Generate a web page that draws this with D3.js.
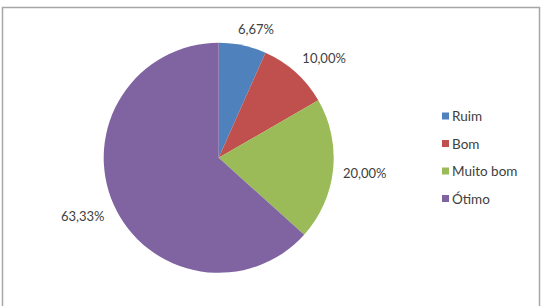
<!DOCTYPE html>
<html lang="pt">

<head>
    <meta charset="UTF-8">
    <title>Avaliação</title>
    <script src="https://d3js.org/d3.v7.min.js"></script>
    <style>
        body { margin: 0; background: #fff; }
        svg text { font-family: Lato, "Open Sans", sans-serif; fill: #404040; }
    </style>
</head>

<body>
    <svg width="546" height="306"></svg>

    <script>
        (function () {
            // data (counts of answers, shares shown as labels)
            const categories = ['Ruim', 'Bom', 'Muito bom', 'Ótimo'];
            const counts = [2, 3, 6, 19];
            const colors = ['#4F81BD', '#C0504D', '#9BBB59', '#8064A2'];

            const svg = d3.select('svg');

            // outer frame
            svg.append('rect')
                .attr('x', 2.5).attr('y', 7.5)
                .attr('width', 537).attr('height', 320)
                .attr('fill', 'none')
                .attr('stroke', '#a6a6a6')
                .attr('stroke-width', 1.5);

            const cx = 218.7, cy = 157.8, r = 115;
            const total = d3.sum(counts);
            const fmt = v => (v * 100).toFixed(2).replace('.', ',') + '%';

            const pie = d3.pie().sort(null).value(d => d)(counts);
            const arc = d3.arc().innerRadius(0).outerRadius(r);

            const g = svg.append('g').attr('transform', `translate(${cx},${cy})`);

            g.selectAll('path')
                .data(pie)
                .enter()
                .append('path')
                .attr('d', arc)
                .attr('fill', (d, i) => colors[i]);

            // labels: anchor point just off the rim, box pushed away from it
            const gap = 10;
            const clamp = v => Math.max(-1, Math.min(1, v));
            g.selectAll('text.lbl')
                .data(pie)
                .enter()
                .append('text')
                .attr('class', 'lbl')
                .attr('font-size', 13)
                .attr('text-anchor', 'middle')
                .attr('dominant-baseline', 'central')
                .text(d => fmt(d.value / total))
                .each(function (d) {
                    const a = (d.startAngle + d.endAngle) / 2;
                    const ux = Math.sin(a), uy = -Math.cos(a);
                    const hw = this.getComputedTextLength() / 2, hh = 7;
                    const px = ux * (r + gap), py = uy * (r + gap);
                    d3.select(this)
                        .attr('x', px + hw * clamp(ux * 3))
                        .attr('y', py + hh * clamp(uy * 3));
                });

            // legend
            const legend = svg.append('g').attr('transform', 'translate(442,116)');
            const rows = legend.selectAll('g')
                .data(categories)
                .enter()
                .append('g')
                .attr('transform', (d, i) => `translate(0,${i * 27.5})`);

            rows.append('rect')
                .attr('x', 0).attr('y', -3.5)
                .attr('width', 7).attr('height', 7)
                .attr('fill', (d, i) => colors[i]);

            rows.append('text')
                .attr('x', 10)
                .attr('y', 0)
                .attr('font-size', 13.5)
                .attr('dominant-baseline', 'central')
                .text(d => d);
        })();
    </script>
</body>

</html>
